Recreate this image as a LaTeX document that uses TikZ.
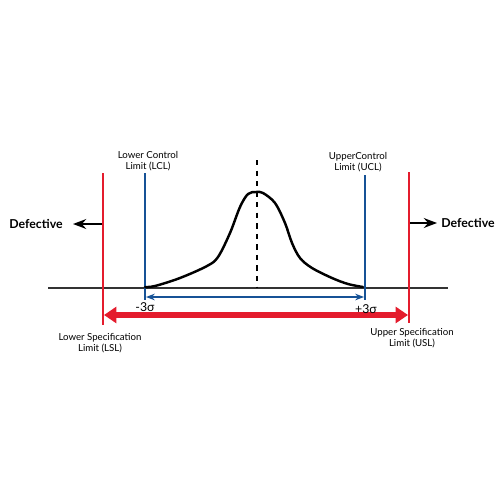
\documentclass[tikz,border=0pt]{standalone}
\usepackage{fontspec}
\setmainfont{Lato}
\usepackage{xcolor}
\usepackage{tikz}
\usetikzlibrary{arrows.meta,positioning,calc}

\definecolor{speccol}{RGB}{228,28,45}
\definecolor{ctrlcol}{RGB}{22,82,150}

\begin{document}
\begin{tikzpicture}[
    x=0.02cm, y=-0.02cm,
    >=Stealth,
    lbl/.style={align=center, font=\fontsize{5.5}{6.5}\selectfont, inner sep=0pt},
    sig/.style={font=\fontsize{7}{8}\selectfont, inner sep=0pt},
    dfct/.style={font=\fontsize{7}{8}\selectfont\bfseries, inner sep=0pt},
    spec/.style={speccol, line width=0.8pt},
    ctrl/.style={ctrlcol, line width=0.7pt}
]
    \useasboundingbox (0,0) rectangle (500,500);

    % Axis
    \coordinate (axL) at (48,288);
    \coordinate (axR) at (448,288);
    \draw[line width=0.8pt, black!80] (axL) -- (axR);

    % Specification limits
    \coordinate (lslT) at (103,173);
    \coordinate (lslB) at (103,325);
    \coordinate (uslT) at (409,172);
    \coordinate (uslB) at (409,323);
    \draw[spec] (lslT) -- (lslB);
    \draw[spec] (uslT) -- (uslB);

    % Control limits
    \coordinate (lclT) at (145,173);
    \coordinate (lclB) at (145,300);
    \coordinate (uclT) at (365,175);
    \coordinate (uclB) at (365,300);
    \draw[ctrl] (lclT) -- (lclB);
    \draw[ctrl] (uclT) -- (uclB);

    % Bell curve and mean
    \draw[line width=1.4pt, line join=round, line cap=round]
        plot[smooth, tension=0.55] coordinates {
        (145,287) (155,286) (180,278) (207,266) (218,257) (230,233)
        (240,207) (248,194) (256,192) (263,193) (275,203) (285,223)
        (292,243) (300,258) (312,268) (332,278) (348,284) (363,287)};
    \coordinate (mT) at (257,160);
    \coordinate (mB) at (257,288);
    \draw[dashed, line width=0.9pt] (mT) -- (mB);

    % Ranges
    \coordinate (c1) at (146,297);
    \coordinate (c2) at (364,297);
    \draw[{Stealth[length=5pt]}-{Stealth[length=5pt]}, ctrlcol, line width=1.7pt]
        (c1) -- (c2);
    \coordinate (s1) at (104,315);
    \coordinate (s2) at (408,315);
    \draw[{Triangle[length=7pt,width=9pt]}-{Triangle[length=7pt,width=9pt]},
          speccol, line width=3.5pt] (s1) -- (s2);

    % Labels
    \node[lbl] (lcl) at (148,161) {Lower Control\\Limit (LCL)};
    \node[lbl] (ucl) at (358,162) {UpperControl\\Limit (UCL)};
    \node[lbl] (lsl) at (100,343) {Lower Specification\\Limit (LSL)};
    \node[lbl] (usl) at (412,338) {Upper Specification\\Limit (USL)};
    \node[sig] (m3) at (145,307) {-3σ};
    \node[sig] (p3) at (366,309) {+3σ};

    % Defective sides
    \node[dfct] (defL) at (36,224) {Defective};
    \node[dfct] (defR) at (468,223) {Defective};
    \coordinate (aL) at (102,224);
    \coordinate (aR) at (410,223);
    \draw[->, line width=1pt] (aL) -- (defL.east -| 73,0);
    \draw[->, line width=1pt] (aR) -- (defR.west -| 437,0);
\end{tikzpicture}
\end{document}
